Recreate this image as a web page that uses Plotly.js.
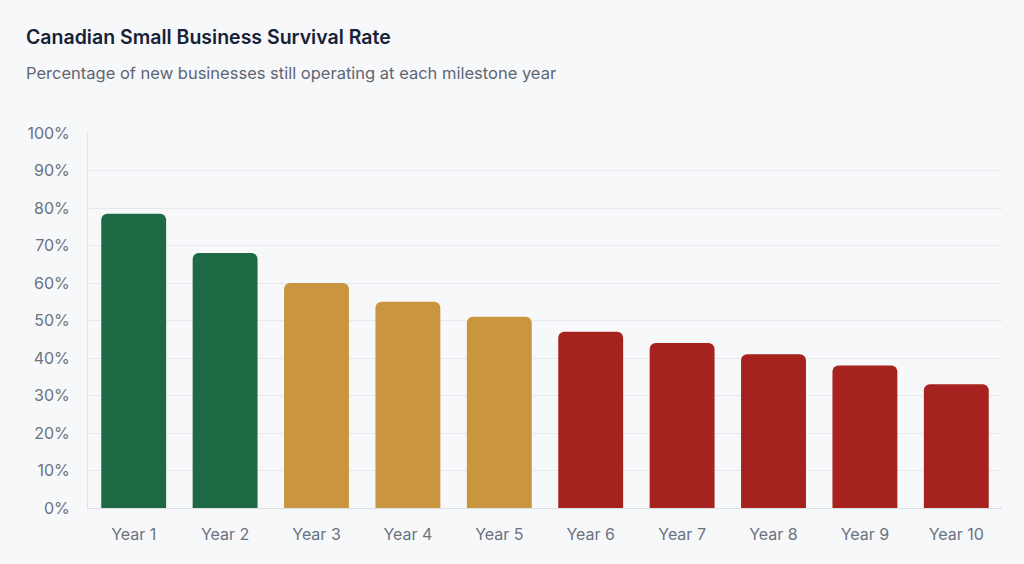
<!DOCTYPE html>
<html>
<head>
<meta charset="utf-8">
<script src="https://cdn.plot.ly/plotly-3.0.1.min.js"></script>
<style>
  html, body { margin: 0; padding: 0; background: #f7f8fa; }
  #chart { width: 1024px; height: 564px; }
</style>
</head>
<body>
<div id="chart"></div>
<script>
const categories = ["Year 1","Year 2","Year 3","Year 4","Year 5","Year 6","Year 7","Year 8","Year 9","Year 10"];
const survivalRate = [78.5, 68, 60, 55, 51, 47, 44, 41, 38, 33];
const barColors = ["#1e6a44","#1e6a44","#c9963f","#c9963f","#c9963f","#a6221e","#a6221e","#a6221e","#a6221e","#a6221e"];
const yTicks = [0,10,20,30,40,50,60,70,80,90,100];
const titleText = "Canadian Small Business Survival Rate";
const subtitleText = "Percentage of new businesses still operating at each milestone year";

const trace = {
  type: "bar",
  x: categories,
  y: survivalRate,
  marker: { color: barColors, cornerradius: 6, line: { width: 0 } },
  hoverinfo: "x+y"
};

const layout = {
  width: 1024,
  height: 564,
  paper_bgcolor: "#f7f8fa",
  plot_bgcolor: "#f7f8fa",
  margin: { l: 88, r: 22, t: 133, b: 56 },
  bargap: 0.29,
  showlegend: false,
  font: { family: "Inter, 'DejaVu Sans', sans-serif", color: "#6b7280", size: 16 },
  xaxis: {
    type: "category",
    showgrid: false,
    showline: true,
    linecolor: "#d9dce1",
    linewidth: 1,
    ticks: "",
    tickfont: { size: 16, color: "#6b7280" },
    ticklabelstandoff: 12
  },
  yaxis: {
    range: [0, 100],
    tickvals: yTicks,
    ticktext: yTicks.map(v => v + "%"),
    showgrid: true,
    gridcolor: "#e6e8ec",
    gridwidth: 1,
    zeroline: false,
    showline: true,
    linecolor: "#e1e3e7",
    linewidth: 1,
    ticks: "",
    tickfont: { size: 16, color: "#6b7280" },
    ticklabelstandoff: 14
  },
  annotations: [
    {
      text: titleText,
      xref: "paper", yref: "paper",
      x: (24 - 88) / 914, y: 1 + (133 - 37) / 375,
      xanchor: "left", yanchor: "middle",
      showarrow: false,
      font: { family: "Inter, 'DejaVu Sans', sans-serif", size: 19.5, color: "#172236", weight: 600 }
    },
    {
      text: subtitleText,
      xref: "paper", yref: "paper",
      x: (24 - 88) / 914, y: 1 + (133 - 73) / 375,
      xanchor: "left", yanchor: "middle",
      showarrow: false,
      font: { family: "Inter, 'DejaVu Sans', sans-serif", size: 16.5, color: "#5f6673" }
    }
  ]
};

Plotly.newPlot("chart", [trace], layout, { displayModeBar: false, staticPlot: true });
</script>
</body>
</html>
